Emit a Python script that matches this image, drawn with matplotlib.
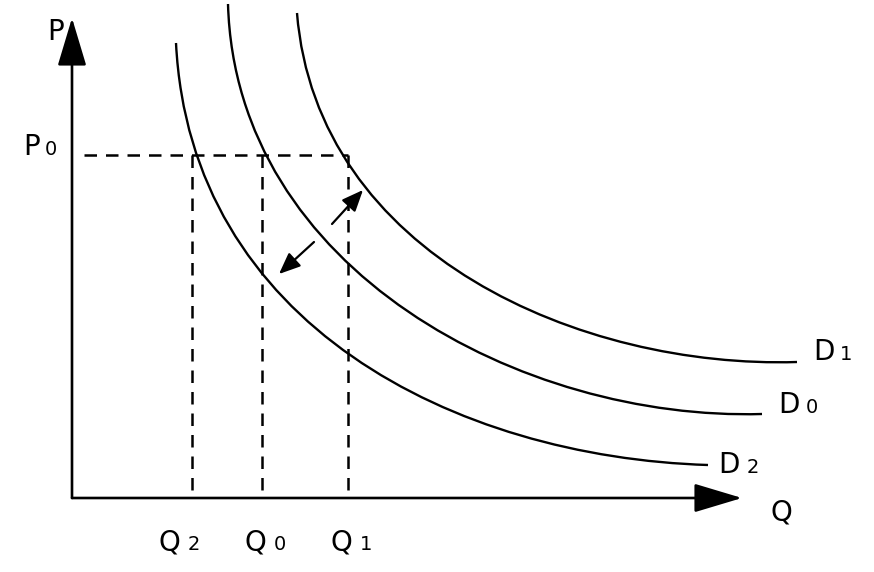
import numpy as np
import matplotlib
matplotlib.use("Agg")
import matplotlib.pyplot as plt
from matplotlib.path import Path
from matplotlib.patches import PathPatch

# points (Q, P), origin at the axes corner
d2_pts = [(104, 455), (111, 398), (125, 343), (148, 291), (190, 226),
          (231, 178), (275, 145), (355, 98), (498, 51), (636, 33)]
d0_pts = [(156, 494), (171, 398), (193, 343), (215, 311), (241, 275),
          (275, 235), (315, 198), (398, 150), (498, 111), (648, 86), (690, 84)]
d1_pts = [(225, 485), (246, 398), (273, 343), (298, 301), (331, 268),
          (398, 221), (515, 165), (648, 140), (725, 136)]

p0 = 343
q_levels = [120, 190, 276]          # Q2, Q0, Q1
axis_tips = (670, 480)

# shift arrows between the curves: (start, end)
shift_out = ((260, 274), (291, 308))
shift_in = ((242, 256), (207, 224))

# labels: (letter, digit, x of letter, x of digit, baseline)
labels = [
    ("P", "", -25, 0, 458),
    ("P", "0", -49, -27, 343),
    ("Q", "", 699, 0, -22),
    ("Q", "2", 86, 116, -52),
    ("Q", "0", 172, 202, -52),
    ("Q", "1", 259, 288, -52),
    ("D", "1", 741, 768, 138),
    ("D", "0", 706, 734, 85),
    ("D", "2", 646, 675, 25),
]


def bezier_fit(pts):
    # one cubic through the end points, inner handles by least squares
    p = np.array(pts, dtype=float)
    a, b = p[0], p[-1]
    seg = np.hypot(*np.diff(p, axis=0).T)
    t = np.concatenate([[0], np.cumsum(seg)]) / seg.sum()
    ts = np.linspace(0, 1, 400)
    for _ in range(30):
        b0, b1, b2, b3 = (1 - t)**3, 3*(1 - t)**2*t, 3*(1 - t)*t**2, t**3
        rhs = p - np.outer(b0, a) - np.outer(b3, b)
        m = np.column_stack([b1, b2])
        c, *_ = np.linalg.lstsq(m, rhs, rcond=None)
        ctrl = np.array([a, c[0], c[1], b])
        curve = (np.outer((1 - ts)**3, ctrl[0]) + np.outer(3*(1 - ts)**2*ts, ctrl[1])
                 + np.outer(3*(1 - ts)*ts**2, ctrl[2]) + np.outer(ts**3, ctrl[3]))
        dist = ((p[:, None, :] - curve[None, :, :])**2).sum(-1)
        t = ts[dist.argmin(1)]
        t[0], t[-1] = 0, 1
    return Path(ctrl, [Path.MOVETO, Path.CURVE4, Path.CURVE4, Path.CURVE4])


fig = plt.figure(figsize=(8.74, 5.72), dpi=100)
ax = fig.add_axes([0, 0, 1, 1])
ax.set_xlim(-72, 802)
ax.set_ylim(-74, 498)
ax.axis('off')

# axes with big arrow heads
big = dict(arrowstyle='-|>,head_length=3.0,head_width=0.9', mutation_scale=10,
           lw=1.9, color='black', shrinkA=0, shrinkB=0)
ax.annotate('', xy=(axis_tips[0], 0), xytext=(0, 0), arrowprops=big)
ax.annotate('', xy=(0, axis_tips[1]), xytext=(0, 0), arrowprops=big)

# demand curves
for pts in (d2_pts, d0_pts, d1_pts):
    ax.add_patch(PathPatch(bezier_fit(pts), fill=False, lw=1.7, color='black'))

# dashed guides
dash = (0, (5, 3.6))
ax.plot([12, q_levels[-1]], [p0, p0], color='black', lw=1.8, linestyle=dash)
for q in q_levels:
    ax.plot([q, q], [p0, 6], color='black', lw=1.8, linestyle=dash)

# shift arrows
small = dict(arrowstyle='-|>,head_length=1.3,head_width=0.55', mutation_scale=10,
             lw=1.6, color='black', shrinkA=0, shrinkB=0)
for a, b in (shift_out, shift_in):
    ax.annotate('', xy=b, xytext=a, arrowprops=small)

for letter, digit, xl, xd, base in labels:
    ax.text(xl, base, letter, fontsize=20, va='baseline', ha='left')
    if digit:
        ax.text(xd, base, digit, fontsize=14, va='baseline', ha='left')

plt.savefig('out.png', dpi=100)
